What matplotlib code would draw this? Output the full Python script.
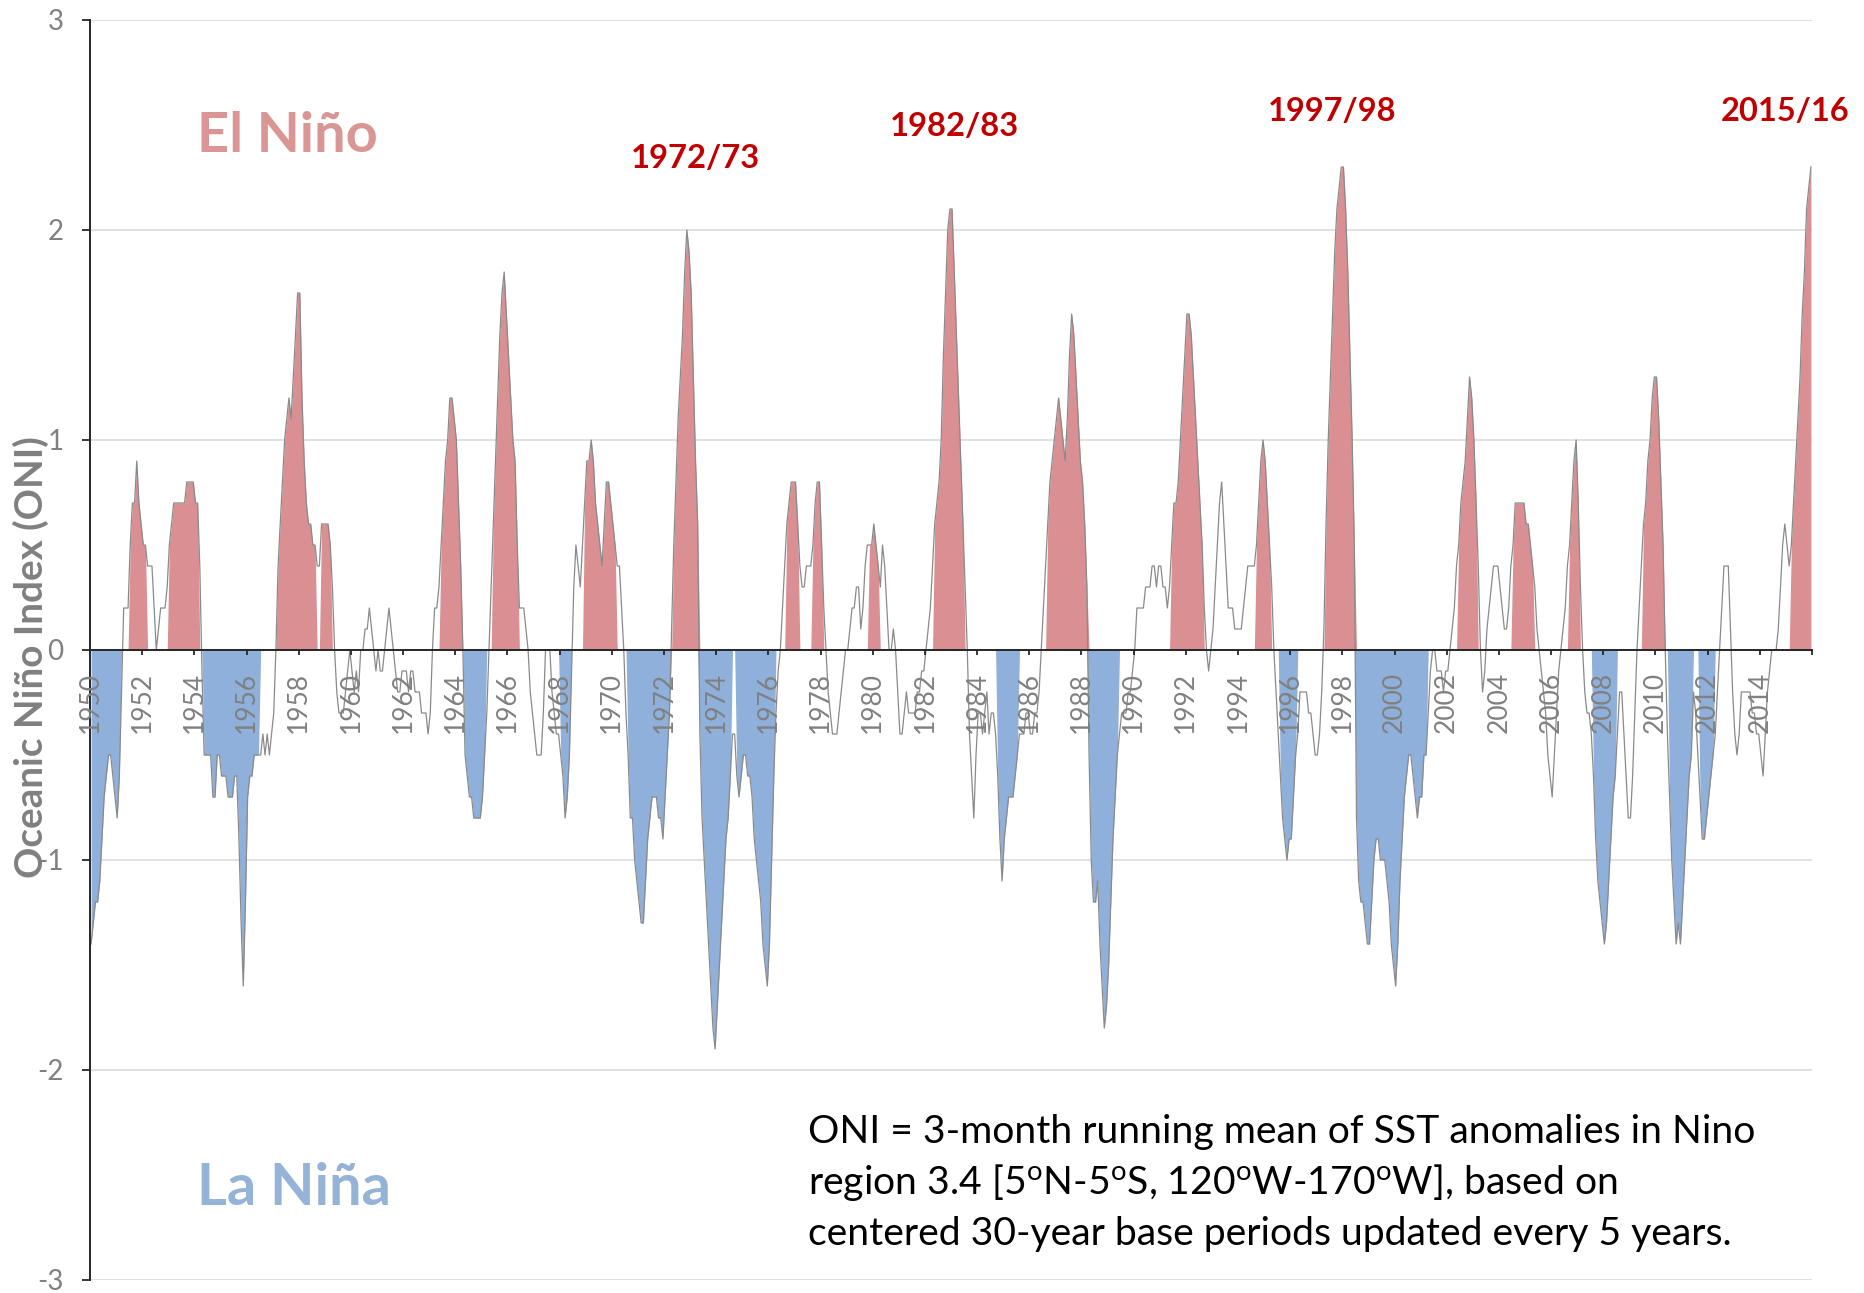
import numpy as np
import matplotlib
matplotlib.use('Agg')
import matplotlib.pyplot as plt

plt.rcParams['font.family'] = ['Lato', 'DejaVu Sans']
plt.rcParams['mathtext.fontset'] = 'custom'
plt.rcParams['mathtext.rm'] = 'Lato'
plt.rcParams['mathtext.it'] = 'Lato:italic'
plt.rcParams['mathtext.bf'] = 'Lato:bold'

# monthly ONI values (3-month running mean, centred month)
oni_1950 = [-1.4, -1.3, -1.2, -1.2, -1.1, -0.9, -0.7, -0.6, -0.5, -0.5, -0.6, -0.7]
oni_1951 = [-0.8, -0.6, -0.2, 0.2, 0.2, 0.2, 0.5, 0.7, 0.7, 0.9, 0.7, 0.6]
oni_1952 = [0.5, 0.5, 0.4, 0.4, 0.4, 0.2, 0.0, 0.1, 0.2, 0.2, 0.2, 0.3]
oni_1953 = [0.5, 0.6, 0.7, 0.7, 0.7, 0.7, 0.7, 0.7, 0.8, 0.8, 0.8, 0.8]
oni_1954 = [0.7, 0.7, 0.4, -0.1, -0.5, -0.5, -0.5, -0.5, -0.7, -0.7, -0.5, -0.5]
oni_1955 = [-0.6, -0.6, -0.6, -0.7, -0.7, -0.7, -0.6, -0.6, -0.9, -1.3, -1.6, -1.2]
oni_1956 = [-0.7, -0.6, -0.6, -0.5, -0.5, -0.5, -0.5, -0.4, -0.5, -0.4, -0.5, -0.4]
oni_1957 = [-0.3, 0.0, 0.4, 0.6, 0.8, 1.0, 1.1, 1.2, 1.1, 1.3, 1.5, 1.7]
oni_1958 = [1.7, 1.2, 0.9, 0.7, 0.6, 0.6, 0.5, 0.5, 0.4, 0.4, 0.6, 0.6]
oni_1959 = [0.6, 0.6, 0.5, 0.3, 0.0, -0.2, -0.3, -0.3, -0.3, -0.2, -0.1, 0.0]
oni_1960 = [-0.1, -0.2, -0.1, -0.2, 0.0, 0.0, 0.1, 0.1, 0.2, 0.1, 0.0, -0.1]
oni_1961 = [0.0, -0.1, -0.1, 0.0, 0.1, 0.2, 0.1, 0.0, -0.1, -0.2, -0.2, -0.1]
oni_1962 = [-0.1, -0.1, -0.2, -0.1, -0.1, -0.2, -0.2, -0.2, -0.3, -0.3, -0.3, -0.4]
oni_1963 = [-0.3, 0.0, 0.2, 0.2, 0.3, 0.5, 0.7, 0.9, 1.0, 1.2, 1.2, 1.1]
oni_1964 = [1.0, 0.7, 0.4, 0.0, -0.5, -0.6, -0.7, -0.7, -0.8, -0.8, -0.8, -0.8]
oni_1965 = [-0.7, -0.5, -0.3, 0.0, 0.3, 0.6, 0.9, 1.2, 1.5, 1.7, 1.8, 1.6]
oni_1966 = [1.4, 1.2, 1.0, 0.9, 0.5, 0.2, 0.2, 0.2, 0.1, 0.0, -0.2, -0.3]
oni_1967 = [-0.4, -0.5, -0.5, -0.5, -0.3, 0.0, 0.0, 0.0, -0.2, -0.3, -0.4, -0.4]
oni_1968 = [-0.5, -0.6, -0.8, -0.7, -0.5, -0.1, 0.3, 0.5, 0.4, 0.3, 0.5, 0.7]
oni_1969 = [0.9, 0.9, 1.0, 0.9, 0.7, 0.6, 0.5, 0.4, 0.6, 0.8, 0.8, 0.7]
oni_1970 = [0.6, 0.5, 0.4, 0.4, 0.2, 0.0, -0.3, -0.5, -0.8, -0.8, -1.0, -1.1]
oni_1971 = [-1.2, -1.3, -1.3, -1.1, -0.9, -0.8, -0.7, -0.7, -0.7, -0.8, -0.8, -0.9]
oni_1972 = [-0.7, -0.5, -0.3, 0.1, 0.5, 0.8, 1.1, 1.3, 1.5, 1.8, 2.0, 1.9]
oni_1973 = [1.7, 1.3, 0.9, 0.6, -0.4, -0.8, -1.0, -1.2, -1.4, -1.6, -1.8, -1.9]
oni_1974 = [-1.7, -1.5, -1.3, -1.1, -0.9, -0.8, -0.6, -0.4, -0.4, -0.6, -0.7, -0.6]
oni_1975 = [-0.5, -0.5, -0.6, -0.6, -0.7, -0.9, -1.0, -1.1, -1.2, -1.4, -1.5, -1.6]
oni_1976 = [-1.4, -1.0, -0.6, -0.3, -0.1, 0.0, 0.2, 0.4, 0.6, 0.7, 0.8, 0.8]
oni_1977 = [0.8, 0.6, 0.4, 0.3, 0.3, 0.4, 0.4, 0.4, 0.5, 0.7, 0.8, 0.8]
oni_1978 = [0.5, 0.2, 0.0, -0.2, -0.3, -0.4, -0.4, -0.4, -0.3, -0.2, -0.1, 0.0]
oni_1979 = [0.0, 0.1, 0.2, 0.2, 0.3, 0.3, 0.1, 0.2, 0.4, 0.5, 0.5, 0.5]
oni_1980 = [0.6, 0.5, 0.4, 0.3, 0.5, 0.4, 0.2, 0.0, 0.0, 0.1, 0.0, -0.2]
oni_1981 = [-0.4, -0.4, -0.3, -0.2, -0.3, -0.3, -0.3, -0.3, -0.2, -0.2, -0.1, -0.1]
oni_1982 = [0.0, 0.1, 0.2, 0.4, 0.6, 0.7, 0.8, 1.0, 1.4, 1.7, 2.0, 2.1]
oni_1983 = [2.1, 1.8, 1.5, 1.2, 0.9, 0.6, 0.3, 0.0, -0.4, -0.6, -0.8, -0.5]
oni_1984 = [-0.3, -0.3, -0.4, -0.3, -0.2, -0.4, -0.3, -0.3, -0.4, -0.6, -0.9, -1.1]
oni_1985 = [-0.9, -0.8, -0.7, -0.7, -0.7, -0.6, -0.5, -0.4, -0.4, -0.4, -0.3, -0.3]
oni_1986 = [-0.4, -0.4, -0.3, -0.3, -0.2, 0.0, 0.2, 0.4, 0.6, 0.8, 0.9, 1.0]
oni_1987 = [1.1, 1.2, 1.1, 1.0, 0.9, 1.1, 1.4, 1.6, 1.5, 1.3, 1.1, 0.9]
oni_1988 = [0.8, 0.6, 0.3, -0.5, -1.0, -1.2, -1.2, -1.1, -1.4, -1.6, -1.8, -1.7]
oni_1989 = [-1.5, -1.2, -0.9, -0.7, -0.5, -0.4, -0.3, -0.3, -0.3, -0.2, -0.2, -0.1]
oni_1990 = [0.0, 0.2, 0.2, 0.2, 0.2, 0.3, 0.3, 0.3, 0.4, 0.4, 0.3, 0.4]
oni_1991 = [0.4, 0.3, 0.3, 0.2, 0.3, 0.5, 0.7, 0.7, 0.8, 1.0, 1.2, 1.4]
oni_1992 = [1.6, 1.6, 1.5, 1.3, 1.1, 0.9, 0.7, 0.5, 0.2, 0.0, -0.1, 0.0]
oni_1993 = [0.1, 0.3, 0.5, 0.7, 0.8, 0.6, 0.4, 0.2, 0.2, 0.2, 0.1, 0.1]
oni_1994 = [0.1, 0.1, 0.2, 0.3, 0.4, 0.4, 0.4, 0.4, 0.5, 0.7, 0.9, 1.0]
oni_1995 = [0.9, 0.7, 0.5, 0.3, 0.0, -0.2, -0.4, -0.6, -0.8, -0.9, -1.0, -0.9]
oni_1996 = [-0.9, -0.7, -0.5, -0.4, -0.2, -0.2, -0.2, -0.2, -0.3, -0.3, -0.4, -0.5]
oni_1997 = [-0.5, -0.4, -0.2, 0.1, 0.6, 1.0, 1.3, 1.6, 1.9, 2.1, 2.2, 2.3]
oni_1998 = [2.3, 2.1, 1.8, 1.4, 1.0, 0.5, -0.8, -1.1, -1.2, -1.2, -1.3, -1.4]
oni_1999 = [-1.4, -1.2, -1.0, -0.9, -0.9, -1.0, -1.0, -1.0, -1.1, -1.2, -1.4, -1.5]
oni_2000 = [-1.6, -1.4, -1.1, -0.9, -0.7, -0.6, -0.5, -0.5, -0.6, -0.7, -0.8, -0.7]
oni_2001 = [-0.7, -0.5, -0.5, -0.3, -0.1, 0.0, 0.0, -0.1, -0.1, -0.1, -0.2, -0.1]
oni_2002 = [-0.1, 0.0, 0.1, 0.2, 0.4, 0.5, 0.7, 0.8, 0.9, 1.1, 1.3, 1.2]
oni_2003 = [1.0, 0.7, 0.4, 0.0, -0.2, -0.1, 0.1, 0.2, 0.3, 0.4, 0.4, 0.4]
oni_2004 = [0.3, 0.2, 0.1, 0.1, 0.2, 0.4, 0.5, 0.7, 0.7, 0.7, 0.7, 0.7]
oni_2005 = [0.6, 0.6, 0.5, 0.4, 0.3, 0.1, 0.0, -0.1, -0.2, -0.3, -0.5, -0.6]
oni_2006 = [-0.7, -0.5, -0.3, -0.1, 0.0, 0.1, 0.2, 0.4, 0.5, 0.7, 0.9, 1.0]
oni_2007 = [0.7, 0.3, 0.0, -0.2, -0.3, -0.3, -0.4, -0.6, -0.9, -1.1, -1.2, -1.3]
oni_2008 = [-1.4, -1.3, -1.1, -0.9, -0.7, -0.6, -0.4, -0.2, -0.2, -0.4, -0.6, -0.8]
oni_2009 = [-0.8, -0.6, -0.3, 0.0, 0.2, 0.4, 0.6, 0.7, 0.9, 1.0, 1.2, 1.3]
oni_2010 = [1.3, 1.1, 0.8, 0.5, 0.0, -0.4, -0.7, -1.0, -1.2, -1.4, -1.3, -1.4]
oni_2011 = [-1.2, -1.0, -0.8, -0.6, -0.5, -0.2, -0.3, -0.5, -0.7, -0.9, -0.9, -0.8]
oni_2012 = [-0.7, -0.6, -0.5, -0.4, -0.2, 0.0, 0.2, 0.4, 0.4, 0.4, 0.1, -0.2]
oni_2013 = [-0.4, -0.5, -0.4, -0.2, -0.2, -0.2, -0.2, -0.2, -0.3, -0.3, -0.4, -0.4]
oni_2014 = [-0.5, -0.6, -0.4, -0.2, -0.1, 0.0, 0.0, 0.0, 0.1, 0.3, 0.5, 0.6]
oni_2015 = [0.5, 0.4, 0.5, 0.7, 0.9, 1.1, 1.3, 1.6, 1.8, 2.1, 2.2, 2.3]

# shaded episodes (first month, last month)
el_nino_episodes = [
    ((1951, 7), (1952, 2)), ((1953, 1), (1954, 2)), ((1957, 3), (1958, 8)),
    ((1958, 11), (1959, 3)), ((1963, 6), (1964, 3)), ((1965, 6), (1966, 5)),
    ((1968, 12), (1970, 2)), ((1972, 5), (1973, 4)), ((1976, 9), (1977, 2)),
    ((1977, 9), (1978, 1)), ((1979, 11), (1980, 3)), ((1982, 5), (1983, 6)),
    ((1986, 9), (1988, 3)), ((1991, 6), (1992, 8)), ((1994, 9), (1995, 3)),
    ((1997, 5), (1998, 6)), ((2002, 6), (2003, 2)), ((2004, 7), (2005, 4)),
    ((2006, 9), (2007, 1)), ((2009, 7), (2010, 4)), ((2015, 3), (2015, 12)),
]
la_nina_episodes = [
    ((1950, 1), (1951, 2)), ((1954, 5), (1956, 6)), ((1964, 5), (1965, 2)),
    ((1968, 1), (1968, 5)), ((1970, 8), (1972, 3)), ((1973, 5), (1974, 7)),
    ((1974, 10), (1976, 3)), ((1984, 10), (1985, 7)), ((1988, 4), (1989, 5)),
    ((1995, 8), (1996, 3)), ((1998, 7), (2001, 3)), ((2007, 8), (2008, 6)),
    ((2010, 7), (2011, 5)), ((2011, 9), (2012, 3)),
]

strong_events = ['1972/73', '1982/83', '1997/98', '2015/16']
tick_years = list(range(1950, 2016, 2))

first_year = 1950
oni = np.array(sum([globals()['oni_%d' % y] for y in range(1950, 2016)], []))
months = np.arange(len(oni))


def episode_mask(episodes):
    mask = np.zeros(len(oni), dtype=bool)
    for (y0, m0), (y1, m1) in episodes:
        i0 = (y0 - first_year) * 12 + m0 - 1
        i1 = (y1 - first_year) * 12 + m1 - 1
        mask[i0:i1 + 1] = True
    return mask


nino_mask = episode_mask(el_nino_episodes)
nina_mask = episode_mask(la_nina_episodes)

W, H = 1864, 1293
fig = plt.figure(figsize=(W / 100, H / 100), dpi=100)
ax = fig.add_axes([90 / W, 13 / H, 1722 / W, 1260 / H])

red_fill = '#DA9092'
blue_fill = '#8EB0DA'
grey_txt = '#808080'

# horizontal gridlines kept underneath the fills
for v in range(-3, 4):
    ax.axhline(v, color='#d9d9d9', lw=1.1, zorder=0.5)

ax.fill_between(months, 0, np.where(nino_mask, oni, 0), color=red_fill, lw=0, zorder=1)
ax.fill_between(months, 0, np.where(nina_mask, oni, 0), color=blue_fill, lw=0, zorder=1)
ax.plot(months, oni, color='#8a8a8a', lw=0.9, zorder=2)

ax.set_xlim(-0.5, len(oni) - 0.5)
ax.set_ylim(-3, 3)
ax.set_axisbelow(False)

ax.set_yticks(range(-3, 4))
ax.set_yticklabels([str(v) for v in range(-3, 4)])

ax.set_xticks(np.arange(-0.5, len(oni), 24))
ax.set_xticklabels([str(y) for y in tick_years] + [''])

for s in ['top', 'right']:
    ax.spines[s].set_visible(False)
ax.spines['bottom'].set_position(('data', 0))
for s in ['left', 'bottom']:
    ax.spines[s].set_color('#262626')
    ax.spines[s].set_linewidth(1.4)

ax.tick_params(axis='x', direction='out', length=3.6, width=1.3, color='#262626',
               pad=12, labelsize=19, labelcolor=grey_txt, labelrotation=90)
ax.tick_params(axis='y', direction='out', length=6, width=1.3, color='#262626',
               pad=13, labelsize=20, labelcolor=grey_txt)

renderer = fig.canvas.get_renderer()


def fit(txt, target, vertical=False):
    bb = txt.get_window_extent(renderer)
    cur = bb.height if vertical else bb.width
    txt.set_fontsize(txt.get_fontsize() * target / cur)


def px(x, y):
    return x / W, 1 - y / H


ylab = fig.text(*px(31, 657), 'Oceanic Niño Index (ONI)', rotation=90, ha='center',
                va='center', fontsize=26, fontweight='bold', color=grey_txt)
fit(ylab, 442, vertical=True)

t = fig.text(*px(197, 152), 'El Niño', fontsize=40, fontweight='bold', color='#D99694',
             va='baseline')
fit(t, 181)
t = fig.text(*px(197, 1205), 'La Niña', fontsize=40, fontweight='bold', color='#95B3D7',
             va='baseline')
fit(t, 194)

event_pos = [(631, 168), (890, 136), (1268, 121), (1721, 121)]
for label, (x, y) in zip(strong_events, event_pos):
    t = fig.text(*px(x, y), label, fontsize=24, fontweight='bold', color='#C00000',
                 va='baseline')
    fit(t, 129)

note_lines = [
    'ONI = 3-month running mean of SST anomalies in Nino',
    r'region 3.4 [5$^\mathrm{o}$N-5$^\mathrm{o}$S, 120$^\mathrm{o}$W-170$^\mathrm{o}$W], based on',
    'centered 30-year base periods updated every 5 years.',
]
note_y = [1143, 1194, 1245]
notes = [fig.text(*px(808, y), s, fontsize=28, color='black', va='baseline')
         for s, y in zip(note_lines, note_y)]
fit(notes[0], 948)
for n in notes[1:]:
    n.set_fontsize(notes[0].get_fontsize())

fig.savefig('out.png', dpi=100)
